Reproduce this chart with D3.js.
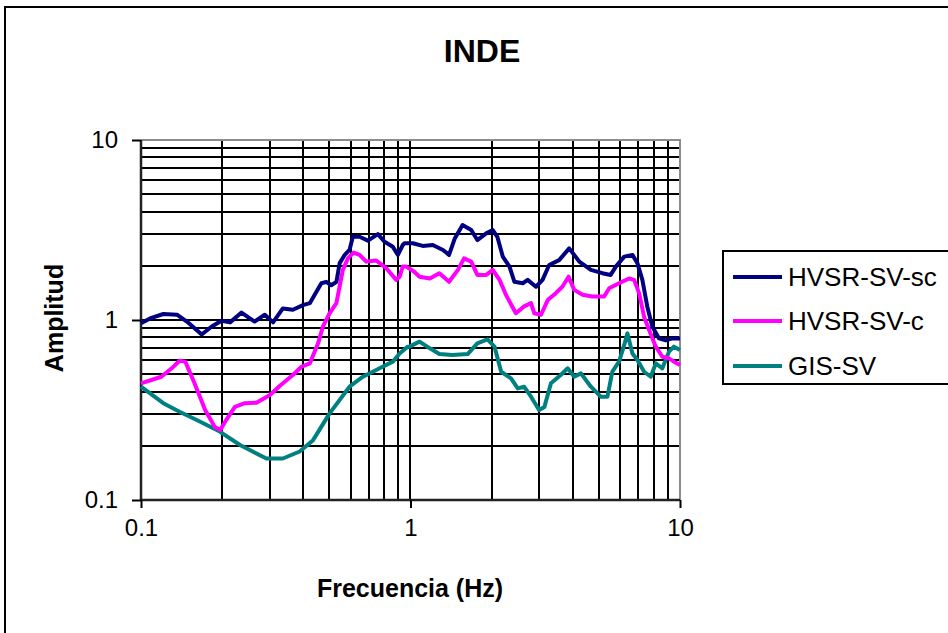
<!DOCTYPE html>
<html>
<head>
<meta charset="utf-8">
<script src="https://cdn.jsdelivr.net/npm/d3@7"></script>
<style>
    body { margin: 0; background: #fff; }
    #chart { width: 948px; height: 633px; overflow: hidden; }
    text { font-family: "Liberation Sans", Arial, sans-serif; }
</style>
</head>
<body>
<div id="chart"></div>
<script>
// values (frequency in Hz, amplitude)
var scFreq = [0.1, 0.108, 0.121, 0.136, 0.148, 0.168, 0.183, 0.199, 0.214, 0.236, 0.264, 0.288, 0.309, 0.336, 0.366, 0.399, 0.423, 0.441, 0.467, 0.487, 0.508, 0.531, 0.546, 0.570, 0.594, 0.611, 0.647, 0.695, 0.757, 0.801, 0.860, 0.898, 0.936, 0.950, 1.02, 1.11, 1.21, 1.32, 1.39, 1.46, 1.56, 1.68, 1.77, 1.91, 2.02, 2.10, 2.20, 2.33, 2.43, 2.61, 2.72, 2.92, 3.09, 3.27, 3.56, 3.88, 4.23, 4.67, 5.15, 5.53, 5.78, 6.21, 6.66, 6.95, 7.25, 7.56, 7.89, 8.36, 8.85, 9.36, 10];
var scAmp = [0.96, 1.02, 1.08, 1.07, 0.98, 0.83, 0.92, 0.99, 0.97, 1.10, 0.98, 1.07, 0.97, 1.16, 1.14, 1.21, 1.24, 1.38, 1.60, 1.63, 1.56, 1.63, 2.07, 2.30, 2.45, 2.90, 2.90, 2.76, 3.0, 2.72, 2.55, 2.30, 2.61, 2.67, 2.67, 2.58, 2.61, 2.45, 2.30, 2.84, 3.37, 3.16, 2.78, 3.03, 3.16, 2.90, 2.25, 1.98, 1.63, 1.60, 1.67, 1.53, 1.67, 2.02, 2.15, 2.50, 2.11, 1.90, 1.82, 1.78, 1.98, 2.25, 2.30, 2.07, 1.67, 1.19, 0.92, 0.79, 0.77, 0.79, 0.79];

var cFreq = [0.1, 0.119, 0.130, 0.139, 0.146, 0.158, 0.173, 0.188, 0.197, 0.205, 0.223, 0.243, 0.268, 0.301, 0.327, 0.366, 0.394, 0.423, 0.454, 0.473, 0.501, 0.531, 0.561, 0.586, 0.615, 0.647, 0.685, 0.746, 0.813, 0.885, 0.911, 0.936, 0.964, 1.03, 1.08, 1.18, 1.28, 1.39, 1.50, 1.58, 1.68, 1.77, 1.91, 2.02, 2.14, 2.26, 2.46, 2.64, 2.80, 2.88, 3.05, 3.23, 3.46, 3.66, 3.86, 4.05, 4.35, 4.73, 5.23, 5.46, 5.94, 6.47, 6.76, 7.05, 7.36, 7.68, 8.13, 8.60, 9.10, 9.50, 10];
var cAmp = [0.445, 0.484, 0.539, 0.594, 0.587, 0.445, 0.316, 0.254, 0.245, 0.272, 0.329, 0.345, 0.347, 0.383, 0.430, 0.495, 0.550, 0.574, 0.742, 0.918, 1.09, 1.24, 1.90, 2.20, 2.37, 2.30, 2.11, 2.14, 1.94, 1.67, 1.74, 1.98, 1.98, 1.86, 1.74, 1.70, 1.82, 1.63, 1.90, 2.20, 2.11, 1.78, 1.78, 1.90, 1.67, 1.38, 1.09, 1.19, 1.24, 1.09, 1.07, 1.29, 1.41, 1.53, 1.74, 1.47, 1.38, 1.35, 1.35, 1.50, 1.60, 1.70, 1.67, 1.41, 1.04, 0.880, 0.711, 0.625, 0.612, 0.587, 0.562];

var gisFreq = [0.1, 0.121, 0.139, 0.161, 0.196, 0.233, 0.292, 0.336, 0.388, 0.435, 0.501, 0.594, 0.666, 0.768, 0.860, 0.911, 0.977, 0.991, 1.08, 1.18, 1.28, 1.43, 1.63, 1.77, 1.93, 2.05, 2.17, 2.36, 2.50, 2.64, 2.80, 3.00, 3.14, 3.32, 3.61, 3.83, 4.05, 4.29, 4.67, 5.08, 5.38, 5.61, 5.94, 6.21, 6.38, 6.66, 6.95, 7.36, 7.79, 8.13, 8.60, 9.10, 9.50, 10];
var gisAmp = [0.426, 0.345, 0.309, 0.278, 0.240, 0.202, 0.170, 0.170, 0.186, 0.215, 0.303, 0.426, 0.484, 0.539, 0.587, 0.652, 0.711, 0.711, 0.758, 0.696, 0.647, 0.639, 0.647, 0.742, 0.781, 0.711, 0.516, 0.474, 0.417, 0.426, 0.375, 0.316, 0.329, 0.445, 0.495, 0.539, 0.484, 0.505, 0.426, 0.375, 0.375, 0.516, 0.587, 0.727, 0.843, 0.652, 0.599, 0.516, 0.484, 0.574, 0.539, 0.667, 0.711, 0.681];

var seriesNames = ["HVSR-SV-sc", "HVSR-SV-c", "GIS-SV"];
var seriesColors = ["#000080", "#ff00ff", "#008080"];
var majorTicks = [0.1, 1, 10];
var majorLabels = ["0.1", "1", "10"];

var IndeChart;
(function (IndeChart) {
    var Chart = (function () {
        function Chart() {
            this.svg = d3.select("#chart").append("svg").attr("width", 948).attr("height", 633);
            this.x = d3.scaleLog().domain([0.1, 10]).range([Chart.left, Chart.right]);
            this.y = d3.scaleLog().domain([0.1, 10]).range([Chart.bottom, Chart.top]);
            this.drawFrame();
            this.drawGrid();
            this.drawAxes();
            this.drawSeries();
            this.drawLegend();
        }

        Chart.prototype.drawFrame = function () {
            this.svg.append("rect").attr("x", 5).attr("y", 7).attr("width", 1000).attr("height", 700)
                .attr("fill", "#fff").attr("stroke", "#000").attr("stroke-width", 2);
            this.svg.append("text").attr("x", 482).attr("y", 62).attr("text-anchor", "middle")
                .attr("font-size", 32).attr("font-weight", "bold").text("INDE");
        };

        Chart.prototype.gridValues = function () {
            var vals = [];
            for (var d = 0.1; d < 10; d *= 10) {
                for (var k = 1; k < 10; k++) vals.push(+(k * d).toPrecision(2));
            }
            vals.push(10);
            return vals;
        };

        Chart.prototype.drawGrid = function () {
            var _this = this;
            var vals = this.gridValues();
            var g = this.svg.append("g").attr("shape-rendering", "crispEdges");
            g.selectAll("line.v").data(vals).enter().append("line")
                .attr("x1", function (d) { return Math.round(_this.x(d)); })
                .attr("x2", function (d) { return Math.round(_this.x(d)); })
                .attr("y1", Chart.top).attr("y2", Chart.bottom)
                .attr("stroke", "#000").attr("stroke-width", 2);
            g.selectAll("line.h").data(vals).enter().append("line")
                .attr("y1", function (d) { return Math.round(_this.y(d)); })
                .attr("y2", function (d) { return Math.round(_this.y(d)); })
                .attr("x1", Chart.left).attr("x2", Chart.right)
                .attr("stroke", "#000").attr("stroke-width", 2);
            // grey border on top and right
            g.append("path").attr("d", "M" + Chart.left + "," + Chart.top + "H" + Chart.right + "V" + Chart.bottom)
                .attr("fill", "none").attr("stroke", "#8c8c8c").attr("stroke-width", 2);
        };

        Chart.prototype.drawAxes = function () {
            var xAxis = d3.axisBottom(this.x).tickValues(majorTicks).tickSize(8).tickPadding(11)
                .tickFormat(function (d, i) { return majorLabels[i]; });
            var yAxis = d3.axisLeft(this.y).tickValues(majorTicks).tickSize(9).tickPadding(14)
                .tickFormat(function (d, i) { return majorLabels[i]; });

            var gx = this.svg.append("g").attr("transform", "translate(0," + Chart.bottom + ")").call(xAxis);
            var gy = this.svg.append("g").attr("transform", "translate(" + Chart.left + ",0)").call(yAxis);
            [gx, gy].forEach(function (g) {
                g.select(".domain").attr("stroke", "#222").attr("stroke-width", 2.5);
                g.selectAll(".tick line").attr("stroke", "#000").attr("stroke-width", 2);
                g.selectAll(".tick text").attr("font-size", 24).attr("fill", "#000")
                    .attr("font-family", "'Liberation Sans', Arial, sans-serif");
            });
            gx.selectAll(".domain").attr("d", "M" + Chart.left + ",0H" + Chart.right);
            gy.selectAll(".domain").attr("d", "M0," + Chart.top + "V" + Chart.bottom);

            this.svg.append("text").attr("x", 410).attr("y", 597).attr("text-anchor", "middle")
                .attr("font-size", 25).attr("font-weight", "bold").text("Frecuencia (Hz)");
            this.svg.append("text").attr("transform", "translate(63,318) rotate(-90)").attr("text-anchor", "middle")
                .attr("font-size", 25).attr("font-weight", "bold").text("Amplitud");
        };

        Chart.prototype.drawSeries = function () {
            var _this = this;
            var sets = [d3.zip(scFreq, scAmp), d3.zip(cFreq, cAmp), d3.zip(gisFreq, gisAmp)];
            var line = d3.line()
                .x(function (d) { return _this.x(d[0]); })
                .y(function (d) { return _this.y(d[1]); });
            // draw teal first, then magenta, navy on top
            [2, 1, 0].forEach(function (i) {
                _this.svg.append("path").datum(sets[i]).attr("d", line)
                    .attr("fill", "none").attr("stroke", seriesColors[i]).attr("stroke-width", 4)
                    .attr("stroke-linejoin", "round");
            });
        };

        Chart.prototype.drawLegend = function () {
            var g = this.svg.append("g");
            g.append("rect").attr("x", 723).attr("y", 251).attr("width", 300).attr("height", 133)
                .attr("fill", "#fff").attr("stroke", "#000").attr("stroke-width", 2);
            var rows = [277, 321, 366];
            seriesNames.forEach(function (name, i) {
                g.append("line").attr("x1", 733).attr("x2", 782).attr("y1", rows[i]).attr("y2", rows[i])
                    .attr("stroke", seriesColors[i]).attr("stroke-width", 4);
                g.append("text").attr("x", 788).attr("y", rows[i] + 9).attr("font-size", 26).text(name);
            });
        };
        Chart.left = 141;
        Chart.right = 680;
        Chart.top = 140;
        Chart.bottom = 500;
        return Chart;
    })();
    IndeChart.Chart = Chart;
})(IndeChart || (IndeChart = {}));

window.onload = function () {
    var chart = new IndeChart.Chart();
};
</script>
</body>
</html>
